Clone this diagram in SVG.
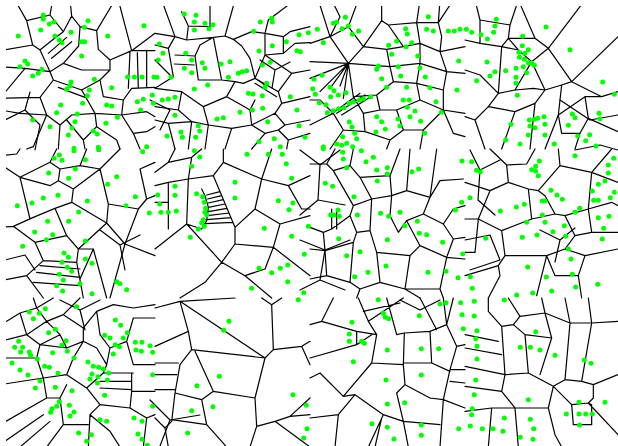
<svg xmlns="http://www.w3.org/2000/svg" width="618" height="446" viewBox="0 0 618 446">
<style>
.e{fill:none;stroke:#000;stroke-width:1.2;vector-effect:non-scaling-stroke;stroke-linejoin:round;stroke-linecap:round}
.d circle{fill:#00ff00}
</style>
<defs><clipPath id="c"><rect x="6" y="6" width="612" height="440"/></clipPath></defs>
<rect width="618" height="446" fill="#fff"/>
<g id="edges" clip-path="url(#c)">
<g transform="translate(0,0) scale(0.33333)"><path class="e" d="M45,0 L80,62 L98,135 L0,152 M80,62 L150,45 L158,0 M150,45 L190,95 M210,0 L215,48 L190,95 L160,118 L120,150 L98,135 M215,48 L240,80 L290,92 L345,0 M240,80 L236,138 M290,92 L295,148 L330,180 L395,152 L355,0 M395,152 L465,100 M395,152 L465,152 M330,180 L330,210 L245,210 L190,190 M236,138 L190,190 L150,215 L120,150 M145,160 L200,112 M155,175 L215,125 M0,295 L75,205 L150,215 M0,200 L75,205 M0,295 L120,292 L160,240 L150,215 M160,240 L245,270 L300,240 L330,210 M175,262 L255,292 M245,270 L285,340 M300,240 L310,290 L370,300 L395,265 L465,262 M370,300 L365,345 L440,335 L465,350 M285,340 L365,345 M120,292 L140,345 L180,375 M180,375 L215,345 L285,340 M180,375 L175,447 M200,360 L250,420 L255,447 M285,340 L290,380 L350,420 L360,447 M365,345 L400,400 L440,395 L465,380 M400,400 L420,447 M290,380 L250,420 M140,345 L100,440 L80,447 M385,265 L390,155 M415,265 L412,158 M440,262 L440,150 M0,330 L60,340 L140,345"/></g>
<g transform="translate(155,0) scale(0.33333)"><path class="e" d="M20,0 L60,110 L0,100 M60,110 L95,120 L175,112 L210,108 M80,35 L100,78 L165,80 L165,0 M100,78 L95,120 M210,108 L240,0 M210,108 L235,118 L260,138 L285,175 M235,118 L290,95 L330,100 M330,100 L340,60 L420,0 M330,100 L385,110 L405,95 L465,80 M330,100 L330,165 L385,160 L385,110 M385,160 L420,130 L465,128 M0,135 L40,145 L60,110 M40,145 L55,230 L0,265 M60,165 L120,168 M58,192 L118,195 M120,168 L135,135 L175,112 M120,168 L130,240 M175,112 L190,190 L200,240 M130,240 L200,240 L240,245 M240,245 L265,250 L300,235 L330,255 M285,175 L300,235 M330,165 L300,235 M300,235 L370,275 M300,250 L365,290 M370,275 L410,220 L465,210 M410,220 L330,165 M370,275 L380,310 L465,290 M0,265 L80,275 L145,320 L215,290 M215,290 L240,245 M215,290 L250,310 L285,330 L300,300 M285,330 L290,375 M80,275 L70,330 L0,320 M70,330 L110,365 M145,320 L160,375 M0,360 L40,370 L110,365 L160,375 L230,385 L290,375 L360,340 L380,310 M360,340 L390,375 L465,360 M40,370 L60,447 M110,365 L100,447 M160,375 L150,447 M230,385 L210,447 M290,375 L330,400 L370,390 L390,375 M330,400 L290,447 M370,390 L400,420 L465,400 M400,420 L395,447"/></g>
<g transform="translate(310,0) scale(0.33333)"><path class="e" d="M25,0 L60,110 L0,130 M65,0 L90,50 L60,110 M145,0 L115,80 L60,110 M115,80 L160,140 M60,110 L115,190 M115,190 L0,185 M115,190 L0,235 M115,190 L30,275 M115,190 L60,265 M115,190 L90,258 M115,190 L100,295 M115,190 L130,290 M115,190 L160,140 L215,62 L215,0 M215,62 L235,75 L280,140 M235,75 L320,68 L330,0 M320,68 L385,68 L390,0 M385,68 L430,0 M320,68 L330,130 L390,155 L410,215 L465,220 M390,155 L465,140 M385,68 L395,110 L390,155 M280,140 L330,130 M160,140 L230,148 L280,140 M115,190 L240,200 L230,148 M330,130 L330,190 L240,200 M330,190 L410,215 M240,200 L250,245 L320,250 L330,190 M320,250 L400,270 L410,215 M320,250 L330,300 L400,330 L400,270 M250,245 L200,285 L130,290 M200,285 L210,330 L160,340 L130,290 M210,330 L260,330 L330,300 M260,330 L280,390 L340,390 L400,330 M400,330 L465,340 M340,390 L330,447 M280,390 L240,420 L230,447 M160,340 L165,395 L240,420 M165,395 L100,390 L60,447 M100,390 L70,340 L0,375 M70,340 L30,300 L0,300 M400,330 L430,400 L465,410 M80,340 L165,285 M95,345 L180,292 M60,345 L150,280"/></g>
<g transform="translate(465,0) scale(0.33333)"><path class="e" d="M30,0 L45,60 L135,75 L130,115 M45,60 L45,130 M0,120 L45,130 L110,140 M160,0 L135,75 M160,0 L210,115 L250,145 L320,245 M210,115 L130,115 L110,140 M250,145 L360,0 M320,245 L459,110 M320,245 L410,290 L459,275 M110,140 L100,280 L70,320 M130,115 L160,150 L200,185 L250,145 M160,150 L110,140 M200,185 L240,270 M200,185 L150,270 M290,255 L320,245 M240,270 L290,255 M240,270 L210,310 L150,335 L70,320 M240,270 L205,265 L150,270 L100,280 M0,210 L45,225 L100,280 M210,310 L195,447 M290,255 L280,345 L240,447 M280,345 L360,290 L410,290 M360,290 L370,355 L459,395 M370,355 L345,400 L290,400 L280,345 M345,400 L330,447 M150,335 L110,447 M70,320 L30,360 L0,350 M30,360 L60,447"/></g>
<g transform="translate(0,149) scale(0.33333)"><path class="e" d="M0,20 L50,15 L60,0 M0,45 L60,85 L150,110 L175,95 L180,60 L150,40 L60,85 M150,40 L170,0 M180,60 L240,50 L260,0 M240,50 L300,60 L360,0 M300,60 L325,165 L415,180 L440,150 L465,140 M440,150 L420,60 L465,40 M175,95 L220,120 L215,160 L165,178 M60,85 L90,210 M0,235 L40,232 L100,205 L165,178 M220,120 L300,60 M215,160 L320,222 L325,165 M320,222 L375,285 L415,180 M375,285 L330,447 M375,285 L465,320 M40,232 L105,280 L130,335 M165,178 L200,260 L235,300 L320,222 M200,260 L105,280 M235,300 L280,300 L240,390 M130,335 L80,380 L0,395 M80,380 L130,447 M130,335 L230,340 L235,300 M230,340 L250,447 M280,300 L320,447 M120,350 L240,360 M110,370 L240,385 M100,400 L240,410"/></g>
<g transform="translate(155,149) scale(0.33333)"><path class="e" d="M0,70 L40,40 L110,25 L140,0 M40,40 L60,0 M110,25 L100,90 L40,100 L0,110 M100,90 L175,80 L205,40 L205,0 M205,40 L320,90 L350,0 M320,90 L300,180 L240,235 M300,180 L375,225 L465,200 M375,225 L355,295 L240,285 L240,235 M175,80 L240,235 M100,90 L95,225 M95,225 L0,300 M95,225 L200,340 L240,285 M200,340 L150,400 L75,447 M200,340 L270,380 L350,447 M270,380 L330,360 L355,295 M355,295 L465,380 M40,100 L40,240 M0,160 L40,160 M155,138 L195,128 M158,150 L200,140 M160,162 L205,152 M160,175 L210,165 M160,188 L216,178 M158,200 L222,192 M156,212 L228,206 M152,224 L234,220 M140,120 L150,140 L160,175 L155,215 L140,240 L95,225 M320,90 L400,110 L465,80 M400,110 L440,180 L465,180"/></g>
<g transform="translate(310,149) scale(0.33333)"><path class="e" d="M0,45 L50,45 L75,0 M50,45 L70,65 L120,50 L150,85 L240,80 M120,50 L130,0 M240,80 L270,0 M150,85 L185,150 L130,170 L70,65 M185,150 L245,140 L290,125 L360,145 L390,95 L460,90 M290,125 L300,0 M360,145 L380,0 M245,140 L240,80 M245,140 L240,200 L265,250 L290,215 L340,195 L360,145 M340,195 L400,225 L430,180 L465,170 M185,150 L180,245 L140,250 L120,200 L130,170 M120,200 L65,240 L40,250 L45,305 L130,280 L140,250 M40,250 L0,235 M45,305 L0,300 M180,245 L200,310 L300,320 L330,290 L290,215 M330,290 L410,325 L430,270 L400,225 M200,310 L210,400 L150,420 L120,400 L130,280 M45,305 L50,380 L120,400 M50,380 L0,390 M300,320 L285,420 L210,400 M410,325 L390,420 L285,420 M150,420 L140,447 M285,420 L330,447 M390,420 L400,447 M430,270 L465,265 M410,325 L465,330 M65,180 L65,240 M80,180 L80,240"/></g>
<g transform="translate(465,149) scale(0.33333)"><path class="e" d="M75,0 L125,48 L185,45 L210,0 M125,48 L130,100 L75,125 L0,100 M75,125 L40,210 L0,210 M130,100 L190,120 L220,125 L285,50 L280,0 M285,50 L380,70 L440,0 M380,70 L459,100 M190,120 L200,210 L110,245 M40,210 L110,245 L120,320 M40,210 L30,310 L0,310 M120,320 L245,320 L270,380 M120,320 L100,350 L105,380 L70,447 M245,320 L215,440 M270,380 L340,380 L360,320 L300,300 L245,320 M340,380 L350,447 M360,320 L459,300 M200,210 L270,195 L300,200 L330,260 L300,300 M270,195 L240,140 L220,125 M330,260 L380,250 L459,250 M380,250 L370,180 L440,160 L459,170 M370,180 L300,200 M380,70 L370,180 M0,380 L100,350"/></g>
<g transform="translate(0,298) scale(0.33333)"><path class="e" d="M20,70 L60,45 L110,30 L160,0 M110,30 L100,0 M110,30 L140,70 L190,50 L240,0 M60,45 L80,110 L140,70 M190,50 L250,90 L290,40 L340,20 L400,30 L465,20 M250,90 L250,130 L200,150 L180,110 L140,70 M80,110 L0,130 M80,110 L120,140 L180,110 M120,140 L200,150 M120,140 L110,180 L0,180 M110,180 L130,240 L0,260 M130,240 L200,230 L220,180 L250,130 M200,230 L260,270 L300,320 M250,130 L290,150 L320,200 L330,150 L380,130 L400,200 M330,150 L300,110 L290,40 M380,130 L400,60 L465,60 M400,200 L465,200 M320,200 L310,225 L400,225 M310,225 L260,270 M300,250 L395,250 M300,270 L395,275 M395,225 L395,280 L465,280 M395,280 L390,330 L300,320 M300,320 L270,350 L265,447 M390,330 L440,360 L465,350 M440,360 L430,447 M270,350 L330,400 L360,447 M130,240 L140,300 L0,380 M140,300 L180,300 L200,260 M180,300 L190,380 L140,447 M190,380 L265,380 M0,440 L130,350 M60,447 L150,370"/></g>
<g transform="translate(155,298) scale(0.33333)"><path class="e" d="M0,30 L75,10 L100,100 L0,145 M75,10 L240,0 M75,10 L330,180 L355,155 L350,20 L380,0 M350,20 L320,0 M355,155 L440,145 L465,130 M440,145 L465,200 M100,100 L110,155 L330,180 M110,155 L75,200 L60,285 L50,370 L30,390 M120,160 L175,280 L140,305 L60,285 M175,280 L300,300 L330,180 M300,300 L305,385 L360,370 L405,355 L465,350 M405,355 L465,300 M140,305 L155,380 L215,447 M155,380 L50,365 M305,385 L285,447 M360,370 L465,447 M0,195 L70,195 M0,230 L65,230 M0,275 L60,275 M30,390 L0,360 M30,390 L40,447"/></g>
<g transform="translate(310,298) scale(0.33333)"><path class="e" d="M70,0 L35,70 L0,80 M35,70 L140,100 L200,110 L175,70 M140,100 L140,140 L0,180 M145,0 L175,70 L280,0 M160,40 L270,15 M140,140 L185,110 M200,110 L185,195 L100,295 L30,225 L0,240 M185,195 L280,200 L285,260 L360,300 M280,200 L283,105 L360,100 L365,195 L280,195 M360,100 L410,80 L440,145 L420,215 M410,80 L400,0 M430,0 L410,80 M440,145 L465,140 M365,195 L420,220 M420,215 L400,305 L360,300 M420,215 L465,215 M420,250 L465,255 M400,305 L465,330 M100,295 L135,290 L220,350 L280,370 M135,290 L85,350 L75,447 M285,260 L260,285 L280,370 L295,447 M400,305 L390,447 M220,350 L175,447 M215,360 L195,447 M280,370 L390,380 M0,360 L85,350 M230,0 L260,110 L283,105 M330,0 L380,95"/></g>
<g transform="translate(465,298) scale(0.33333)"><path class="e" d="M70,0 L70,40 L110,85 L120,230 M130,0 L165,55 L240,45 L230,0 M165,55 L145,80 L110,85 M240,45 L315,75 L300,0 M315,75 L380,75 L370,0 M380,75 L459,70 M145,80 L180,110 L260,120 L240,45 M180,110 L190,225 M260,120 L225,230 M315,75 L300,245 L265,265 M380,75 L350,250 L300,245 M350,250 L385,260 L459,230 M385,260 L385,300 L370,315 L320,320 M120,230 L190,225 L265,265 L250,330 L150,330 L110,280 L120,230 M150,330 L160,447 M265,265 L320,320 L325,380 L380,380 L380,320 L370,315 M370,315 L459,410 M250,330 L270,410 L290,447 M0,150 L110,170 M0,205 L120,230 M0,265 L110,280 M0,110 L100,130 M80,330 L70,447 M80,330 L150,330 M0,340 L80,330"/></g>
<path class="e" d="M5,120 L25,110 L40,125 M25,110 L30,92 M40,125 L35,150 M300,150 L320,165 L340,150 M320,165 L318,200 L300,215 M318,200 L345,205 M300,240 L325,250 L350,240 M325,250 L320,280 L300,290 M320,280 L345,290 M155,60 L170,75 M150,100 L170,110 L160,130 M470,150 L480,170 L500,160 M480,170 L478,200 L495,215 M465,240 L490,235 M490,235 L500,260 L470,270 M560,100 L590,120 M590,120 L618,115 M575,150 L600,145 L618,150 M150,400 L170,420 L160,446 M170,420 L200,415 M400,300 L420,310 L440,300 M100,230 L120,245 L140,235 M120,245 L125,270 M60,300 L80,310 L100,300 M80,310 L85,330 M5,260 L25,255 L35,270 M540,230 L560,240 L575,228 M560,240 L555,262 M260,60 L275,70 L290,62 M275,70 L272,88"/>
</g>
<g id="sites" class="d">
<g transform="translate(0,0) scale(0.33333)"><circle cx="130" cy="45" r="7.5"/><circle cx="130" cy="58" r="7.5"/><circle cx="148" cy="72" r="7.5"/><circle cx="162" cy="66" r="7.5"/><circle cx="122" cy="90" r="7.5"/><circle cx="55" cy="108" r="7.5"/><circle cx="165" cy="108" r="7.5"/><circle cx="178" cy="120" r="7.5"/><circle cx="186" cy="128" r="7.5"/><circle cx="213" cy="97" r="7.5"/><circle cx="253" cy="82" r="7.5"/><circle cx="264" cy="62" r="7.5"/><circle cx="245" cy="125" r="7.5"/><circle cx="254" cy="125" r="7.5"/><circle cx="323" cy="108" r="7.5"/><circle cx="432" cy="77" r="7.5"/><circle cx="245" cy="168" r="7.5"/><circle cx="75" cy="183" r="7.5"/><circle cx="83" cy="192" r="7.5"/><circle cx="60" cy="200" r="7.5"/><circle cx="126" cy="208" r="7.5"/><circle cx="115" cy="220" r="7.5"/><circle cx="98" cy="228" r="7.5"/><circle cx="213" cy="246" r="7.5"/><circle cx="210" cy="258" r="7.5"/><circle cx="200" cy="268" r="7.5"/><circle cx="283" cy="238" r="7.5"/><circle cx="335" cy="263" r="7.5"/><circle cx="268" cy="270" r="7.5"/><circle cx="262" cy="287" r="7.5"/><circle cx="383" cy="231" r="7.5"/><circle cx="403" cy="231" r="7.5"/><circle cx="426" cy="231" r="7.5"/><circle cx="462" cy="231" r="7.5"/><circle cx="182" cy="315" r="7.5"/><circle cx="248" cy="310" r="7.5"/><circle cx="320" cy="315" r="7.5"/><circle cx="335" cy="318" r="7.5"/><circle cx="412" cy="305" r="7.5"/><circle cx="430" cy="298" r="7.5"/><circle cx="457" cy="285" r="7.5"/><circle cx="460" cy="310" r="7.5"/><circle cx="170" cy="338" r="7.5"/><circle cx="232" cy="342" r="7.5"/><circle cx="352" cy="352" r="7.5"/><circle cx="422" cy="330" r="7.5"/><circle cx="98" cy="360" r="7.5"/><circle cx="225" cy="365" r="7.5"/><circle cx="216" cy="384" r="7.5"/><circle cx="150" cy="380" r="7.5"/><circle cx="205" cy="405" r="7.5"/><circle cx="318" cy="370" r="7.5"/><circle cx="280" cy="393" r="7.5"/><circle cx="292" cy="402" r="7.5"/><circle cx="440" cy="440" r="7.5"/><circle cx="295" cy="442" r="7.5"/><circle cx="222" cy="445" r="7.5"/></g>
<g transform="translate(155,0) scale(0.33333)"><circle cx="88" cy="42" r="7.5"/><circle cx="123" cy="46" r="7.5"/><circle cx="118" cy="66" r="7.5"/><circle cx="150" cy="70" r="7.5"/><circle cx="174" cy="74" r="7.5"/><circle cx="162" cy="86" r="7.5"/><circle cx="118" cy="90" r="7.5"/><circle cx="316" cy="66" r="7.5"/><circle cx="350" cy="55" r="7.5"/><circle cx="352" cy="66" r="7.5"/><circle cx="296" cy="94" r="7.5"/><circle cx="432" cy="104" r="7.5"/><circle cx="460" cy="98" r="7.5"/><circle cx="13" cy="132" r="7.5"/><circle cx="24" cy="160" r="7.5"/><circle cx="10" cy="180" r="7.5"/><circle cx="92" cy="160" r="7.5"/><circle cx="110" cy="180" r="7.5"/><circle cx="88" cy="205" r="7.5"/><circle cx="110" cy="218" r="7.5"/><circle cx="142" cy="188" r="7.5"/><circle cx="150" cy="205" r="7.5"/><circle cx="198" cy="192" r="7.5"/><circle cx="225" cy="185" r="7.5"/><circle cx="312" cy="153" r="7.5"/><circle cx="352" cy="137" r="7.5"/><circle cx="394" cy="125" r="7.5"/><circle cx="426" cy="152" r="7.5"/><circle cx="436" cy="155" r="7.5"/><circle cx="322" cy="195" r="7.5"/><circle cx="346" cy="187" r="7.5"/><circle cx="250" cy="220" r="7.5"/><circle cx="262" cy="215" r="7.5"/><circle cx="275" cy="212" r="7.5"/><circle cx="220" cy="232" r="7.5"/><circle cx="48" cy="232" r="7.5"/><circle cx="6" cy="232" r="7.5"/><circle cx="335" cy="250" r="7.5"/><circle cx="330" cy="262" r="7.5"/><circle cx="118" cy="267" r="7.5"/><circle cx="158" cy="255" r="7.5"/><circle cx="280" cy="280" r="7.5"/><circle cx="294" cy="282" r="7.5"/><circle cx="322" cy="287" r="7.5"/><circle cx="406" cy="290" r="7.5"/><circle cx="22" cy="300" r="7.5"/><circle cx="40" cy="297" r="7.5"/><circle cx="60" cy="292" r="7.5"/><circle cx="255" cy="337" r="7.5"/><circle cx="292" cy="330" r="7.5"/><circle cx="323" cy="325" r="7.5"/><circle cx="426" cy="330" r="7.5"/><circle cx="60" cy="346" r="7.5"/><circle cx="186" cy="357" r="7.5"/><circle cx="205" cy="353" r="7.5"/><circle cx="338" cy="365" r="7.5"/><circle cx="130" cy="377" r="7.5"/><circle cx="134" cy="393" r="7.5"/><circle cx="78" cy="396" r="7.5"/><circle cx="82" cy="412" r="7.5"/><circle cx="122" cy="412" r="7.5"/><circle cx="36" cy="408" r="7.5"/><circle cx="432" cy="377" r="7.5"/><circle cx="312" cy="425" r="7.5"/><circle cx="358" cy="416" r="7.5"/><circle cx="376" cy="440" r="7.5"/><circle cx="450" cy="412" r="7.5"/></g>
<g transform="translate(310,0) scale(0.33333)"><circle cx="106" cy="52" r="7.5"/><circle cx="80" cy="67" r="7.5"/><circle cx="70" cy="70" r="7.5"/><circle cx="96" cy="86" r="7.5"/><circle cx="115" cy="78" r="7.5"/><circle cx="127" cy="103" r="7.5"/><circle cx="146" cy="93" r="7.5"/><circle cx="22" cy="88" r="7.5"/><circle cx="40" cy="128" r="7.5"/><circle cx="355" cy="50" r="7.5"/><circle cx="350" cy="88" r="7.5"/><circle cx="370" cy="93" r="7.5"/><circle cx="415" cy="93" r="7.5"/><circle cx="433" cy="93" r="7.5"/><circle cx="450" cy="88" r="7.5"/><circle cx="287" cy="86" r="7.5"/><circle cx="292" cy="102" r="7.5"/><circle cx="260" cy="124" r="7.5"/><circle cx="236" cy="136" r="7.5"/><circle cx="288" cy="140" r="7.5"/><circle cx="305" cy="128" r="7.5"/><circle cx="245" cy="163" r="7.5"/><circle cx="323" cy="168" r="7.5"/><circle cx="446" cy="183" r="7.5"/><circle cx="205" cy="198" r="7.5"/><circle cx="200" cy="208" r="7.5"/><circle cx="265" cy="200" r="7.5"/><circle cx="330" cy="203" r="7.5"/><circle cx="215" cy="236" r="7.5"/><circle cx="272" cy="228" r="7.5"/><circle cx="346" cy="231" r="7.5"/><circle cx="230" cy="262" r="7.5"/><circle cx="290" cy="262" r="7.5"/><circle cx="360" cy="263" r="7.5"/><circle cx="441" cy="270" r="7.5"/><circle cx="12" cy="238" r="7.5"/><circle cx="36" cy="226" r="7.5"/><circle cx="8" cy="266" r="7.5"/><circle cx="16" cy="283" r="7.5"/><circle cx="60" cy="262" r="7.5"/><circle cx="72" cy="272" r="7.5"/><circle cx="85" cy="285" r="7.5"/><circle cx="108" cy="278" r="7.5"/><circle cx="62" cy="290" r="7.5"/><circle cx="28" cy="308" r="7.5"/><circle cx="48" cy="314" r="7.5"/><circle cx="160" cy="296" r="7.5"/><circle cx="182" cy="290" r="7.5"/><circle cx="148" cy="300" r="7.5"/><circle cx="130" cy="306" r="7.5"/><circle cx="118" cy="310" r="7.5"/><circle cx="102" cy="323" r="7.5"/><circle cx="86" cy="326" r="7.5"/><circle cx="70" cy="332" r="7.5"/><circle cx="52" cy="338" r="7.5"/><circle cx="280" cy="300" r="7.5"/><circle cx="298" cy="300" r="7.5"/><circle cx="292" cy="322" r="7.5"/><circle cx="315" cy="333" r="7.5"/><circle cx="300" cy="350" r="7.5"/><circle cx="378" cy="305" r="7.5"/><circle cx="394" cy="337" r="7.5"/><circle cx="200" cy="350" r="7.5"/><circle cx="215" cy="365" r="7.5"/><circle cx="264" cy="357" r="7.5"/><circle cx="270" cy="378" r="7.5"/><circle cx="226" cy="388" r="7.5"/><circle cx="198" cy="396" r="7.5"/><circle cx="118" cy="366" r="7.5"/><circle cx="126" cy="381" r="7.5"/><circle cx="134" cy="400" r="7.5"/><circle cx="140" cy="416" r="7.5"/><circle cx="332" cy="364" r="7.5"/><circle cx="344" cy="400" r="7.5"/><circle cx="98" cy="410" r="7.5"/><circle cx="80" cy="432" r="7.5"/><circle cx="95" cy="436" r="7.5"/><circle cx="110" cy="430" r="7.5"/><circle cx="128" cy="440" r="7.5"/><circle cx="40" cy="440" r="7.5"/></g>
<g transform="translate(465,0) scale(0.33333)"><circle cx="94" cy="58" r="7.5"/><circle cx="90" cy="78" r="7.5"/><circle cx="4" cy="88" r="7.5"/><circle cx="20" cy="97" r="7.5"/><circle cx="48" cy="104" r="7.5"/><circle cx="67" cy="117" r="7.5"/><circle cx="86" cy="97" r="7.5"/><circle cx="173" cy="109" r="7.5"/><circle cx="172" cy="137" r="7.5"/><circle cx="243" cy="81" r="7.5"/><circle cx="315" cy="149" r="7.5"/><circle cx="162" cy="157" r="7.5"/><circle cx="190" cy="149" r="7.5"/><circle cx="180" cy="160" r="7.5"/><circle cx="163" cy="172" r="7.5"/><circle cx="178" cy="178" r="7.5"/><circle cx="190" cy="188" r="7.5"/><circle cx="200" cy="190" r="7.5"/><circle cx="208" cy="196" r="7.5"/><circle cx="175" cy="200" r="7.5"/><circle cx="185" cy="218" r="7.5"/><circle cx="153" cy="205" r="7.5"/><circle cx="122" cy="212" r="7.5"/><circle cx="90" cy="215" r="7.5"/><circle cx="75" cy="228" r="7.5"/><circle cx="35" cy="242" r="7.5"/><circle cx="153" cy="232" r="7.5"/><circle cx="153" cy="250" r="7.5"/><circle cx="66" cy="186" r="7.5"/><circle cx="157" cy="286" r="7.5"/><circle cx="413" cy="246" r="7.5"/><circle cx="448" cy="283" r="7.5"/><circle cx="322" cy="342" r="7.5"/><circle cx="330" cy="353" r="7.5"/><circle cx="402" cy="340" r="7.5"/><circle cx="405" cy="356" r="7.5"/><circle cx="193" cy="360" r="7.5"/><circle cx="208" cy="358" r="7.5"/><circle cx="218" cy="355" r="7.5"/><circle cx="237" cy="350" r="7.5"/><circle cx="195" cy="378" r="7.5"/><circle cx="210" cy="383" r="7.5"/><circle cx="240" cy="373" r="7.5"/><circle cx="310" cy="376" r="7.5"/><circle cx="138" cy="373" r="7.5"/><circle cx="190" cy="405" r="7.5"/><circle cx="240" cy="405" r="7.5"/><circle cx="268" cy="432" r="7.5"/><circle cx="338" cy="408" r="7.5"/><circle cx="374" cy="404" r="7.5"/><circle cx="362" cy="422" r="7.5"/><circle cx="393" cy="438" r="7.5"/><circle cx="122" cy="420" r="7.5"/><circle cx="165" cy="432" r="7.5"/></g>
<g transform="translate(0,149) scale(0.33333)"><circle cx="162" cy="28" r="7.5"/><circle cx="178" cy="18" r="7.5"/><circle cx="186" cy="34" r="7.5"/><circle cx="222" cy="5" r="7.5"/><circle cx="256" cy="32" r="7.5"/><circle cx="296" cy="2" r="7.5"/><circle cx="428" cy="8" r="7.5"/><circle cx="146" cy="72" r="7.5"/><circle cx="206" cy="88" r="7.5"/><circle cx="226" cy="60" r="7.5"/><circle cx="350" cy="83" r="7.5"/><circle cx="323" cy="106" r="7.5"/><circle cx="52" cy="170" r="7.5"/><circle cx="96" cy="162" r="7.5"/><circle cx="130" cy="147" r="7.5"/><circle cx="174" cy="139" r="7.5"/><circle cx="262" cy="156" r="7.5"/><circle cx="236" cy="189" r="7.5"/><circle cx="378" cy="170" r="7.5"/><circle cx="406" cy="143" r="7.5"/><circle cx="448" cy="192" r="7.5"/><circle cx="143" cy="217" r="7.5"/><circle cx="206" cy="217" r="7.5"/><circle cx="104" cy="249" r="7.5"/><circle cx="158" cy="257" r="7.5"/><circle cx="139" cy="272" r="7.5"/><circle cx="256" cy="276" r="7.5"/><circle cx="68" cy="292" r="7.5"/><circle cx="192" cy="312" r="7.5"/><circle cx="205" cy="325" r="7.5"/><circle cx="256" cy="330" r="7.5"/><circle cx="276" cy="343" r="7.5"/><circle cx="186" cy="340" r="7.5"/><circle cx="202" cy="355" r="7.5"/><circle cx="215" cy="367" r="7.5"/><circle cx="178" cy="376" r="7.5"/><circle cx="190" cy="393" r="7.5"/><circle cx="170" cy="410" r="7.5"/><circle cx="240" cy="404" r="7.5"/><circle cx="188" cy="426" r="7.5"/><circle cx="276" cy="434" r="7.5"/><circle cx="350" cy="398" r="7.5"/><circle cx="360" cy="404" r="7.5"/><circle cx="380" cy="422" r="7.5"/></g>
<g transform="translate(155,149) scale(0.33333)"><circle cx="118" cy="5" r="7.5"/><circle cx="134" cy="24" r="7.5"/><circle cx="110" cy="52" r="7.5"/><circle cx="276" cy="16" r="7.5"/><circle cx="340" cy="16" r="7.5"/><circle cx="382" cy="16" r="7.5"/><circle cx="394" cy="44" r="7.5"/><circle cx="410" cy="88" r="7.5"/><circle cx="240" cy="100" r="7.5"/><circle cx="240" cy="147" r="7.5"/><circle cx="60" cy="112" r="7.5"/><circle cx="60" cy="139" r="7.5"/><circle cx="8" cy="138" r="7.5"/><circle cx="14" cy="165" r="7.5"/><circle cx="18" cy="190" r="7.5"/><circle cx="40" cy="190" r="7.5"/><circle cx="64" cy="186" r="7.5"/><circle cx="125" cy="134" r="7.5"/><circle cx="143" cy="143" r="7.5"/><circle cx="148" cy="160" r="7.5"/><circle cx="152" cy="178" r="7.5"/><circle cx="150" cy="190" r="7.5"/><circle cx="155" cy="197" r="7.5"/><circle cx="145" cy="212" r="7.5"/><circle cx="140" cy="221" r="7.5"/><circle cx="148" cy="232" r="7.5"/><circle cx="130" cy="240" r="7.5"/><circle cx="106" cy="265" r="7.5"/><circle cx="328" cy="238" r="7.5"/><circle cx="370" cy="155" r="7.5"/><circle cx="414" cy="162" r="7.5"/><circle cx="402" cy="182" r="7.5"/><circle cx="460" cy="232" r="7.5"/><circle cx="410" cy="262" r="7.5"/><circle cx="448" cy="316" r="7.5"/><circle cx="312" cy="358" r="7.5"/><circle cx="350" cy="371" r="7.5"/><circle cx="376" cy="358" r="7.5"/><circle cx="398" cy="348" r="7.5"/><circle cx="398" cy="398" r="7.5"/><circle cx="446" cy="431" r="7.5"/><circle cx="290" cy="418" r="7.5"/></g>
<g transform="translate(310,149) scale(0.33333)"><circle cx="40" cy="0" r="7.5"/><circle cx="98" cy="10" r="7.5"/><circle cx="154" cy="5" r="7.5"/><circle cx="100" cy="30" r="7.5"/><circle cx="110" cy="56" r="7.5"/><circle cx="168" cy="38" r="7.5"/><circle cx="190" cy="25" r="7.5"/><circle cx="200" cy="63" r="7.5"/><circle cx="232" cy="56" r="7.5"/><circle cx="232" cy="75" r="7.5"/><circle cx="202" cy="96" r="7.5"/><circle cx="306" cy="68" r="7.5"/><circle cx="326" cy="60" r="7.5"/><circle cx="46" cy="103" r="7.5"/><circle cx="68" cy="112" r="7.5"/><circle cx="132" cy="143" r="7.5"/><circle cx="62" cy="198" r="7.5"/><circle cx="72" cy="198" r="7.5"/><circle cx="84" cy="183" r="7.5"/><circle cx="88" cy="202" r="7.5"/><circle cx="142" cy="198" r="7.5"/><circle cx="212" cy="193" r="7.5"/><circle cx="236" cy="202" r="7.5"/><circle cx="270" cy="190" r="7.5"/><circle cx="284" cy="230" r="7.5"/><circle cx="322" cy="217" r="7.5"/><circle cx="328" cy="253" r="7.5"/><circle cx="350" cy="257" r="7.5"/><circle cx="398" cy="280" r="7.5"/><circle cx="456" cy="36" r="7.5"/><circle cx="455" cy="160" r="7.5"/><circle cx="436" cy="183" r="7.5"/><circle cx="458" cy="315" r="7.5"/><circle cx="86" cy="269" r="7.5"/><circle cx="150" cy="308" r="7.5"/><circle cx="110" cy="320" r="7.5"/><circle cx="232" cy="272" r="7.5"/><circle cx="228" cy="351" r="7.5"/><circle cx="354" cy="370" r="7.5"/><circle cx="408" cy="367" r="7.5"/><circle cx="444" cy="386" r="7.5"/><circle cx="174" cy="370" r="7.5"/><circle cx="134" cy="383" r="7.5"/></g>
<g transform="translate(465,149) scale(0.33333)"><circle cx="20" cy="38" r="7.5"/><circle cx="35" cy="64" r="7.5"/><circle cx="46" cy="68" r="7.5"/><circle cx="15" cy="146" r="7.5"/><circle cx="106" cy="186" r="7.5"/><circle cx="154" cy="174" r="7.5"/><circle cx="178" cy="166" r="7.5"/><circle cx="223" cy="36" r="7.5"/><circle cx="212" cy="52" r="7.5"/><circle cx="200" cy="62" r="7.5"/><circle cx="212" cy="66" r="7.5"/><circle cx="220" cy="80" r="7.5"/><circle cx="258" cy="124" r="7.5"/><circle cx="276" cy="138" r="7.5"/><circle cx="292" cy="151" r="7.5"/><circle cx="232" cy="156" r="7.5"/><circle cx="240" cy="156" r="7.5"/><circle cx="232" cy="198" r="7.5"/><circle cx="240" cy="220" r="7.5"/><circle cx="185" cy="220" r="7.5"/><circle cx="264" cy="248" r="7.5"/><circle cx="216" cy="258" r="7.5"/><circle cx="172" cy="265" r="7.5"/><circle cx="62" cy="268" r="7.5"/><circle cx="298" cy="230" r="7.5"/><circle cx="302" cy="262" r="7.5"/><circle cx="330" cy="20" r="7.5"/><circle cx="446" cy="28" r="7.5"/><circle cx="430" cy="48" r="7.5"/><circle cx="430" cy="72" r="7.5"/><circle cx="420" cy="96" r="7.5"/><circle cx="400" cy="106" r="7.5"/><circle cx="382" cy="126" r="7.5"/><circle cx="386" cy="154" r="7.5"/><circle cx="400" cy="154" r="7.5"/><circle cx="436" cy="146" r="7.5"/><circle cx="448" cy="130" r="7.5"/><circle cx="344" cy="178" r="7.5"/><circle cx="330" cy="190" r="7.5"/><circle cx="400" cy="206" r="7.5"/><circle cx="432" cy="202" r="7.5"/><circle cx="416" cy="238" r="7.5"/><circle cx="412" cy="270" r="7.5"/><circle cx="310" cy="300" r="7.5"/><circle cx="318" cy="330" r="7.5"/><circle cx="188" cy="354" r="7.5"/><circle cx="322" cy="376" r="7.5"/><circle cx="16" cy="383" r="7.5"/><circle cx="22" cy="418" r="7.5"/><circle cx="244" cy="384" r="7.5"/><circle cx="155" cy="438" r="7.5"/><circle cx="203" cy="432" r="7.5"/><circle cx="260" cy="426" r="7.5"/><circle cx="332" cy="414" r="7.5"/><circle cx="398" cy="406" r="7.5"/></g>
<g transform="translate(0,298) scale(0.33333)"><circle cx="230" cy="26" r="7.5"/><circle cx="136" cy="32" r="7.5"/><circle cx="118" cy="46" r="7.5"/><circle cx="88" cy="42" r="7.5"/><circle cx="100" cy="62" r="7.5"/><circle cx="166" cy="94" r="7.5"/><circle cx="146" cy="104" r="7.5"/><circle cx="56" cy="130" r="7.5"/><circle cx="44" cy="148" r="7.5"/><circle cx="68" cy="148" r="7.5"/><circle cx="62" cy="162" r="7.5"/><circle cx="88" cy="162" r="7.5"/><circle cx="92" cy="172" r="7.5"/><circle cx="112" cy="183" r="7.5"/><circle cx="36" cy="195" r="7.5"/><circle cx="60" cy="216" r="7.5"/><circle cx="84" cy="231" r="7.5"/><circle cx="134" cy="205" r="7.5"/><circle cx="148" cy="208" r="7.5"/><circle cx="174" cy="226" r="7.5"/><circle cx="158" cy="164" r="7.5"/><circle cx="186" cy="142" r="7.5"/><circle cx="198" cy="128" r="7.5"/><circle cx="202" cy="160" r="7.5"/><circle cx="222" cy="180" r="7.5"/><circle cx="264" cy="192" r="7.5"/><circle cx="280" cy="205" r="7.5"/><circle cx="296" cy="208" r="7.5"/><circle cx="310" cy="213" r="7.5"/><circle cx="326" cy="225" r="7.5"/><circle cx="276" cy="228" r="7.5"/><circle cx="294" cy="236" r="7.5"/><circle cx="270" cy="243" r="7.5"/><circle cx="292" cy="255" r="7.5"/><circle cx="322" cy="246" r="7.5"/><circle cx="120" cy="249" r="7.5"/><circle cx="106" cy="270" r="7.5"/><circle cx="166" cy="268" r="7.5"/><circle cx="216" cy="278" r="7.5"/><circle cx="178" cy="311" r="7.5"/><circle cx="170" cy="325" r="7.5"/><circle cx="156" cy="332" r="7.5"/><circle cx="152" cy="343" r="7.5"/><circle cx="208" cy="322" r="7.5"/><circle cx="222" cy="342" r="7.5"/><circle cx="210" cy="354" r="7.5"/><circle cx="314" cy="292" r="7.5"/><circle cx="346" cy="66" r="7.5"/><circle cx="362" cy="82" r="7.5"/><circle cx="382" cy="104" r="7.5"/><circle cx="370" cy="120" r="7.5"/><circle cx="314" cy="112" r="7.5"/><circle cx="330" cy="120" r="7.5"/><circle cx="346" cy="140" r="7.5"/><circle cx="358" cy="146" r="7.5"/><circle cx="340" cy="168" r="7.5"/><circle cx="406" cy="133" r="7.5"/><circle cx="426" cy="133" r="7.5"/><circle cx="408" cy="156" r="7.5"/><circle cx="424" cy="160" r="7.5"/><circle cx="450" cy="143" r="7.5"/><circle cx="458" cy="163" r="7.5"/><circle cx="458" cy="325" r="7.5"/><circle cx="458" cy="230" r="7.5"/><circle cx="402" cy="360" r="7.5"/><circle cx="426" cy="370" r="7.5"/><circle cx="300" cy="365" r="7.5"/><circle cx="320" cy="370" r="7.5"/><circle cx="236" cy="405" r="7.5"/><circle cx="274" cy="410" r="7.5"/><circle cx="260" cy="430" r="7.5"/><circle cx="414" cy="408" r="7.5"/><circle cx="426" cy="424" r="7.5"/><circle cx="442" cy="442" r="7.5"/></g>
<g transform="translate(155,298) scale(0.33333)"><circle cx="430" cy="5" r="7.5"/><circle cx="222" cy="70" r="7.5"/><circle cx="206" cy="97" r="7.5"/><circle cx="193" cy="235" r="7.5"/><circle cx="126" cy="263" r="7.5"/><circle cx="174" cy="326" r="7.5"/><circle cx="110" cy="338" r="7.5"/><circle cx="98" cy="405" r="7.5"/><circle cx="414" cy="290" r="7.5"/><circle cx="454" cy="322" r="7.5"/><circle cx="456" cy="392" r="7.5"/><circle cx="446" cy="420" r="7.5"/></g>
<g transform="translate(310,298) scale(0.33333)"><circle cx="205" cy="5" r="7.5"/><circle cx="220" cy="46" r="7.5"/><circle cx="226" cy="58" r="7.5"/><circle cx="236" cy="62" r="7.5"/><circle cx="126" cy="73" r="7.5"/><circle cx="118" cy="108" r="7.5"/><circle cx="118" cy="130" r="7.5"/><circle cx="155" cy="130" r="7.5"/><circle cx="163" cy="136" r="7.5"/><circle cx="232" cy="156" r="7.5"/><circle cx="334" cy="152" r="7.5"/><circle cx="386" cy="152" r="7.5"/><circle cx="328" cy="53" r="7.5"/><circle cx="390" cy="18" r="7.5"/><circle cx="408" cy="14" r="7.5"/><circle cx="452" cy="14" r="7.5"/><circle cx="456" cy="50" r="7.5"/><circle cx="460" cy="92" r="7.5"/><circle cx="130" cy="191" r="7.5"/><circle cx="228" cy="246" r="7.5"/><circle cx="334" cy="231" r="7.5"/><circle cx="232" cy="318" r="7.5"/><circle cx="284" cy="314" r="7.5"/><circle cx="186" cy="377" r="7.5"/><circle cx="232" cy="388" r="7.5"/><circle cx="252" cy="423" r="7.5"/><circle cx="334" cy="381" r="7.5"/><circle cx="334" cy="412" r="7.5"/><circle cx="446" cy="392" r="7.5"/></g>
<g transform="translate(465,298) scale(0.33333)"><circle cx="28" cy="10" r="7.5"/><circle cx="118" cy="6" r="7.5"/><circle cx="28" cy="54" r="7.5"/><circle cx="36" cy="98" r="7.5"/><circle cx="32" cy="122" r="7.5"/><circle cx="36" cy="145" r="7.5"/><circle cx="36" cy="183" r="7.5"/><circle cx="32" cy="246" r="7.5"/><circle cx="28" cy="290" r="7.5"/><circle cx="22" cy="332" r="7.5"/><circle cx="20" cy="350" r="7.5"/><circle cx="16" cy="384" r="7.5"/><circle cx="52" cy="392" r="7.5"/><circle cx="84" cy="392" r="7.5"/><circle cx="114" cy="400" r="7.5"/><circle cx="118" cy="360" r="7.5"/><circle cx="166" cy="418" r="7.5"/><circle cx="196" cy="364" r="7.5"/><circle cx="206" cy="392" r="7.5"/><circle cx="204" cy="424" r="7.5"/><circle cx="190" cy="305" r="7.5"/><circle cx="212" cy="101" r="7.5"/><circle cx="166" cy="148" r="7.5"/><circle cx="196" cy="148" r="7.5"/><circle cx="225" cy="156" r="7.5"/><circle cx="270" cy="172" r="7.5"/><circle cx="358" cy="186" r="7.5"/><circle cx="378" cy="196" r="7.5"/><circle cx="342" cy="313" r="7.5"/><circle cx="304" cy="348" r="7.5"/><circle cx="342" cy="348" r="7.5"/><circle cx="362" cy="348" r="7.5"/><circle cx="382" cy="348" r="7.5"/><circle cx="344" cy="381" r="7.5"/><circle cx="420" cy="313" r="7.5"/></g>
</g>
</svg>
